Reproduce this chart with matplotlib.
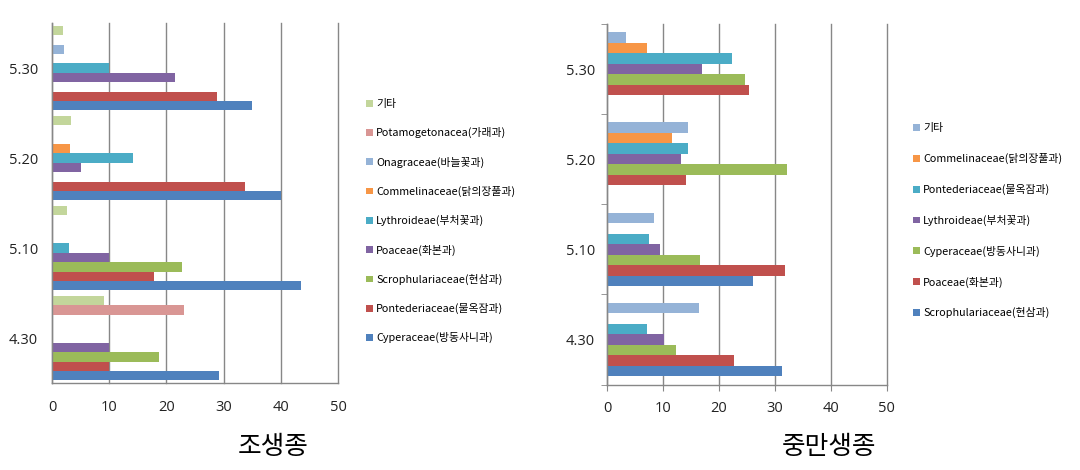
import matplotlib
matplotlib.use('Agg')
import matplotlib.pyplot as plt
import numpy as np

# ---------------- data ----------------
categories = ['4.30', '5.10', '5.20', '5.30']

# 조생종 (early), series listed bottom -> top inside each group
early_names = ['Cyperaceae(방동사니과)', 'Pontederiaceae(물옥잠과)', 'Scrophulariaceae(현삼과)',
               'Poaceae(화본과)', 'Lythroideae(부처꽃과)', 'Commelinaceae(닭의장풀과)',
               'Onagraceae(바늘꽃과)', 'Potamogetonacea(가래과)', '기타']
early_cyperaceae = [29.2, 43.6, 40.1, 34.9]
early_pontederiaceae = [10.0, 17.9, 33.8, 28.8]
early_scrophulariaceae = [18.7, 22.8, 0, 0]
early_poaceae = [10.0, 10.0, 5.1, 21.5]
early_lythroideae = [0, 3.0, 14.2, 10.0]
early_commelinaceae = [0, 0, 3.2, 0]
early_onagraceae = [0, 0, 0, 2.1]
early_potamogetonacea = [23.1, 0, 0, 0]
early_etc = [9.1, 2.6, 3.3, 2.0]

# 중만생종 (mid-late), series listed bottom -> top inside each group
late_names = ['Scrophulariaceae(현삼과)', 'Poaceae(화본과)', 'Cyperaceae(방동사니과)',
              'Lythroideae(부처꽃과)', 'Pontederiaceae(물옥잠과)', 'Commelinaceae(닭의장풀과)', '기타']
late_scrophulariaceae = [31.3, 26.1, 0, 0]
late_poaceae = [22.6, 31.8, 14.0, 25.3]
late_cyperaceae = [12.3, 16.6, 32.1, 24.7]
late_lythroideae = [10.1, 9.4, 13.1, 16.9]
late_pontederiaceae = [7.1, 7.5, 14.4, 22.3]
late_commelinaceae = [0, 0, 11.6, 7.1]
late_etc = [16.4, 8.3, 14.5, 3.3]

titles = ['조생종', '중만생종']

# ---------------- style ----------------
BLUE, RED, GREEN, PURPLE = '#4F81BD', '#C0504D', '#9BBB59', '#8064A2'
AQUA, ORANGE = '#4BACC6', '#F79646'
LBLUE, PINK, LGREEN = '#95B3D7', '#D99694', '#C3D69B'

early_colors = [BLUE, RED, GREEN, PURPLE, AQUA, ORANGE, LBLUE, PINK, LGREEN]
late_colors = [BLUE, RED, GREEN, PURPLE, AQUA, ORANGE, LBLUE]

early_values = [early_cyperaceae, early_pontederiaceae, early_scrophulariaceae,
                early_poaceae, early_lythroideae, early_commelinaceae,
                early_onagraceae, early_potamogetonacea, early_etc]
late_values = [late_scrophulariaceae, late_poaceae, late_cyperaceae, late_lythroideae,
               late_pontederiaceae, late_commelinaceae, late_etc]

TICKFONT = ['Open Sans']
KFONT = ['Noto Sans CJK KR', 'DejaVu Sans']
GRID = '#878787'

W, H = 1080, 470
fig = plt.figure(figsize=(W / 100, H / 100), dpi=100)
fig.patch.set_facecolor('white')

ax1 = fig.add_axes([52 / W, 1 - 383 / H, 286 / W, 360 / H])
ax2 = fig.add_axes([607.3 / W, 1 - 384.5 / H, 279.4 / W, 360.5 / H])


def draw(ax, names, values, colors, group_frac, with_ticks):
    n = len(names)
    h = group_frac / n
    y = np.arange(len(categories))
    handles = []
    for i, (name, vals, c) in enumerate(zip(names, values, colors)):
        b = ax.barh(y + (i - (n - 1) / 2) * h, vals, height=h, color=c,
                    linewidth=0, label=name)
        handles.append(b)
    ax.set_xlim(0, 50)
    ax.set_ylim(-0.5, len(categories) - 0.5)
    ax.set_xticks(range(0, 51, 10))
    ax.set_yticks(y)
    ax.set_yticklabels(categories)
    ax.xaxis.grid(True, color=GRID, linewidth=1.0)
    for gl in ax.get_xgridlines():
        gl.set_clip_on(False)
    ax.set_axisbelow(True)
    for s in ['top', 'right']:
        ax.spines[s].set_visible(False)
    for s in ['left', 'bottom']:
        ax.spines[s].set_color(GRID)
        ax.spines[s].set_linewidth(1.0)
    for lab in ax.get_xticklabels() + ax.get_yticklabels():
        lab.set_family(TICKFONT)
        lab.set_fontsize(10.5)
        lab.set_color('#222222')
    if with_ticks:
        ax.tick_params(axis='x', length=4, color=GRID, pad=8)
        ax.tick_params(axis='y', which='major', length=0, pad=9)
        ax.set_yticks(np.arange(-0.5, len(categories), 1.0), minor=True)
        ax.tick_params(axis='y', which='minor', length=4, color=GRID)
    else:
        ax.tick_params(axis='x', length=0, pad=12)
        ax.tick_params(axis='y', length=0, pad=10)
    return handles


h1 = draw(ax1, early_names, early_values, early_colors, 0.94, False)
h2 = draw(ax2, late_names, late_values, late_colors, 0.815, True)

leg_kw = dict(frameon=False, handlelength=0.6, handleheight=0.6, handletextpad=0.35,
              borderpad=0, borderaxespad=0, loc='upper left',
              prop={'family': KFONT, 'size': 7.8})
fig.legend(h1[::-1], early_names[::-1], bbox_to_anchor=(366 / W, 1 - 99 / H),
           bbox_transform=fig.transFigure, labelspacing=1.68, **leg_kw)
fig.legend(h2[::-1], late_names[::-1], bbox_to_anchor=(913 / W, 1 - 123.5 / H),
           bbox_transform=fig.transFigure, labelspacing=1.82, **leg_kw)

fig.text(273 / W, 1 - 447 / H, titles[0], ha='center', va='center',
         family=KFONT, fontsize=18.5)
fig.text(829 / W, 1 - 447 / H, titles[1], ha='center', va='center',
         family=KFONT, fontsize=18.5)

fig.savefig('out.png', dpi=100, facecolor='white')
